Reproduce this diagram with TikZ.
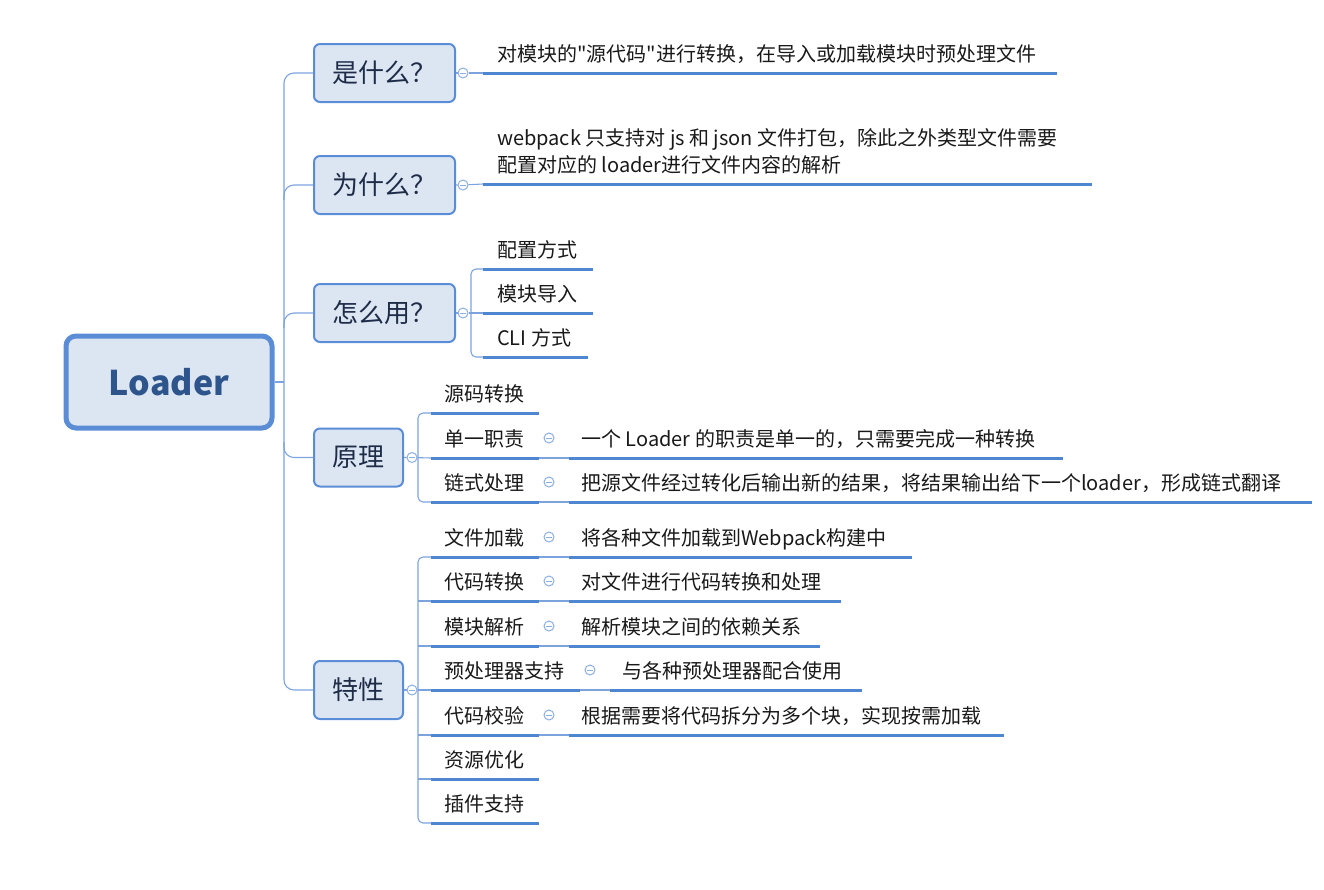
\documentclass[tikz,border=0pt]{standalone}
\usepackage{fontspec}
\setmainfont{Noto Sans CJK SC}[Ligatures=TeXOff]
\definecolor{bordc}{RGB}{91,141,214}
\definecolor{fillc}{RGB}{220,230,243}
\definecolor{ulc}{RGB}{79,134,208}
\definecolor{connc}{RGB}{125,163,222}
\definecolor{foldc}{RGB}{140,175,226}
\definecolor{navy}{RGB}{30,44,72}
\definecolor{rootc}{RGB}{46,84,140}
\definecolor{leafc}{RGB}{25,25,25}
\begin{document}
\begin{tikzpicture}[x=1pt,y=-1pt,
  conn/.style={draw=connc, line width=1.1pt},
  uline/.style={draw=ulc, line width=3pt},
  rootbox/.style={draw=bordc, fill=fillc, line width=5pt, rounded corners=10pt,
    minimum width=206pt, minimum height=92pt, inner sep=0pt,
    font=\fontsize{34}{40}\selectfont\bfseries, text=rootc},
  branch/.style={draw=bordc, fill=fillc, line width=2pt, rounded corners=6pt,
    minimum height=58pt, inner sep=0pt, font=\fontsize{26}{30}\selectfont, text=navy},
  leaf/.style={anchor=base west, inner sep=0pt, font=\fontsize{20}{24}\selectfont, text=leafc},
  fold/.style={circle, draw=foldc, fill=white, line width=1pt, minimum size=10pt, inner sep=0pt,
    path picture={\draw[foldc, line width=1pt]
      ([xshift=-2.6pt]path picture bounding box.center) -- ([xshift=2.6pt]path picture bounding box.center);}}
]
\useasboundingbox (0,0) rectangle (1324,889);

% ---------- root and branches ----------
\node[rootbox] (root) at (169,382) {Loader};
\node[branch, minimum width=141pt] (b1) at (384.5,73) {是什么？};
\node[branch, minimum width=141pt] (b2) at (384.5,185) {为什么？};
\node[branch, minimum width=141pt] (b3) at (384.5,313) {怎么用？};
\node[branch, minimum width=89pt] (b4) at (358.5,457.5) {原理};
\node[branch, minimum width=89pt] (b5) at (358.5,690) {特性};

% main spine
\coordinate (s1) at (284,73);
\coordinate (s2) at (284,185);
\coordinate (s2b) at (284,200);
\coordinate (s3) at (284,313);
\coordinate (s3b) at (284,328);
\coordinate (s4) at (284,457.5);
\coordinate (s4b) at (284,442);
\coordinate (s5) at (284,690);
\coordinate (sr) at (284,382);
\draw[conn, rounded corners=10pt] (b1.west) -- (s1) -- (s5) -- (b5.west);
\draw[conn, rounded corners=10pt] (s2b) -- (s2) -- (b2.west);
\draw[conn, rounded corners=10pt] (s3b) -- (s3) -- (b3.west);
\draw[conn, rounded corners=10pt] (s4b) -- (s4) -- (b4.west);
\draw[conn] (root.east) -- (sr);

% ---------- 是什么 ----------
\node[fold] (f1) at (463,73) {};
\coordinate (u1a) at (483,73); \coordinate (u1b) at (1057,73);
\draw[conn] (b1.east) -- (f1) -- (u1a);
\draw[uline] (u1a) -- (u1b);
\node[leaf] (t1) at (497,61) {对模块的"源代码"进行转换，在导入或加载模块时预处理文件};

% ---------- 为什么 ----------
\node[fold] (f2) at (463,185) {};
\coordinate (u2a) at (483,184); \coordinate (u2b) at (1092,184);
\draw[conn] (b2.east) -- (f2) -- (u2a);
\draw[uline] (u2a) -- (u2b);
\node[leaf] (t2a) at (497,145) {webpack 只支持对 js 和 json 文件打包，除此之外类型文件需要};
\node[leaf] (t2b) at (497,172) {配置对应的 loader进行文件内容的解析};

% ---------- 怎么用 ----------
\node[fold] (f3) at (463,313) {};
\coordinate (k3) at (471,313);
\coordinate (k31) at (471,269); \coordinate (k33) at (471,357);
\coordinate (u31a) at (483,269); \coordinate (u31b) at (593,269);
\coordinate (u32a) at (483,313); \coordinate (u32b) at (593,313);
\coordinate (u33a) at (483,357); \coordinate (u33b) at (588,357);
\draw[conn] (b3.east) -- (f3) -- (u32a);
\draw[conn, rounded corners=5pt] (u31a) -- (k31) -- (k33) -- (u33a);
\draw[uline] (u31a) -- (u31b);
\draw[uline] (u32a) -- (u32b);
\draw[uline] (u33a) -- (u33b);
\node[leaf] (t31) at (497,257) {配置方式};
\node[leaf] (t32) at (497,301) {模块导入};
\node[leaf] (t33) at (497,345) {CLI 方式};

% ---------- 原理 ----------
\node[fold] (f4) at (412,457.5) {};
\coordinate (k41) at (418,413); \coordinate (k43) at (418,502);
\coordinate (u41a) at (431,413); \coordinate (u41b) at (539,413);
\coordinate (u42a) at (431,458); \coordinate (u42b) at (539,458);
\coordinate (u43a) at (431,502); \coordinate (u43b) at (539,502);
\draw[conn] (b4.east) -- (f4) -- (u42a);
\draw[conn, rounded corners=5pt] (u41a) -- (k41) -- (k43) -- (u43a);
\draw[uline] (u41a) -- (u41b);
\draw[uline] (u42a) -- (u42b);
\draw[uline] (u43a) -- (u43b);
\node[leaf] (t41) at (444,401) {源码转换};
\node[leaf] (t42) at (444,446) {单一职责};
\node[leaf] (t43) at (444,490) {链式处理};
\node[fold] (f42) at (549,438) {};
\node[fold] (f43) at (549,482) {};
\coordinate (g42a) at (569,458); \coordinate (g42b) at (1063,458);
\coordinate (g43a) at (569,502); \coordinate (g43b) at (1312,502);
\draw[conn] (u42b) -- (g42a);
\draw[conn] (u43b) -- (g43a);
\draw[uline] (g42a) -- (g42b);
\draw[uline] (g43a) -- (g43b);
\node[leaf] (h42) at (581,446) {一个 Loader 的职责是单一的，只需要完成一种转换};
\node[leaf] (h43) at (581,490) {把源文件经过转化后输出新的结果，将结果输出给下一个loader，形成链式翻译};

% ---------- 特性 ----------
\node[fold] (f5) at (412,690) {};
\coordinate (k51) at (418,557); \coordinate (k57) at (418,823);
\coordinate (k52) at (418,601); \coordinate (k53) at (418,646);
\coordinate (k55) at (418,735); \coordinate (k56) at (418,779);
\coordinate (u51a) at (431,557); \coordinate (u51b) at (539,557);
\coordinate (u52a) at (431,601); \coordinate (u52b) at (539,601);
\coordinate (u53a) at (431,646); \coordinate (u53b) at (539,646);
\coordinate (u54a) at (431,690); \coordinate (u54b) at (580,690);
\coordinate (u55a) at (431,735); \coordinate (u55b) at (539,735);
\coordinate (u56a) at (431,779); \coordinate (u56b) at (539,779);
\coordinate (u57a) at (431,823); \coordinate (u57b) at (539,823);
\draw[conn] (b5.east) -- (f5) -- (u54a);
\draw[conn, rounded corners=5pt] (u51a) -- (k51) -- (k57) -- (u57a);
\draw[conn] (k52) -- (u52a);
\draw[conn] (k53) -- (u53a);
\draw[conn] (k55) -- (u55a);
\draw[conn] (k56) -- (u56a);
\foreach \i in {1,...,7} {\draw[uline] (u5\i a) -- (u5\i b);}
\node[leaf] (t51) at (444,545) {文件加载};
\node[leaf] (t52) at (444,589) {代码转换};
\node[leaf] (t53) at (444,634) {模块解析};
\node[leaf] (t54) at (444,678) {预处理器支持};
\node[leaf] (t55) at (444,723) {代码校验};
\node[leaf] (t56) at (444,767) {资源优化};
\node[leaf] (t57) at (444,811) {插件支持};
\node[fold] (f51) at (549,537) {};
\node[fold] (f52) at (549,581) {};
\node[fold] (f53) at (549,626) {};
\node[fold] (f54) at (590,670) {};
\node[fold] (f55) at (549,715) {};
\coordinate (g51a) at (569,557); \coordinate (g51b) at (912,557);
\coordinate (g52a) at (569,601); \coordinate (g52b) at (841,601);
\coordinate (g53a) at (569,646); \coordinate (g53b) at (820,646);
\coordinate (g54a) at (610,690); \coordinate (g54b) at (862,690);
\coordinate (g55a) at (569,735); \coordinate (g55b) at (1004,735);
\draw[conn] (u51b) -- (g51a);
\draw[conn] (u52b) -- (g52a);
\draw[conn] (u53b) -- (g53a);
\draw[conn] (u54b) -- (g54a);
\draw[conn] (u55b) -- (g55a);
\foreach \i in {1,...,5} {\draw[uline] (g5\i a) -- (g5\i b);}
\node[leaf] (h51) at (581,545) {将各种文件加载到Webpack构建中};
\node[leaf] (h52) at (581,589) {对文件进行代码转换和处理};
\node[leaf] (h53) at (581,634) {解析模块之间的依赖关系};
\node[leaf] (h54) at (622,678) {与各种预处理器配合使用};
\node[leaf] (h55) at (581,723) {根据需要将代码拆分为多个块，实现按需加载};
\end{tikzpicture}
\end{document}
